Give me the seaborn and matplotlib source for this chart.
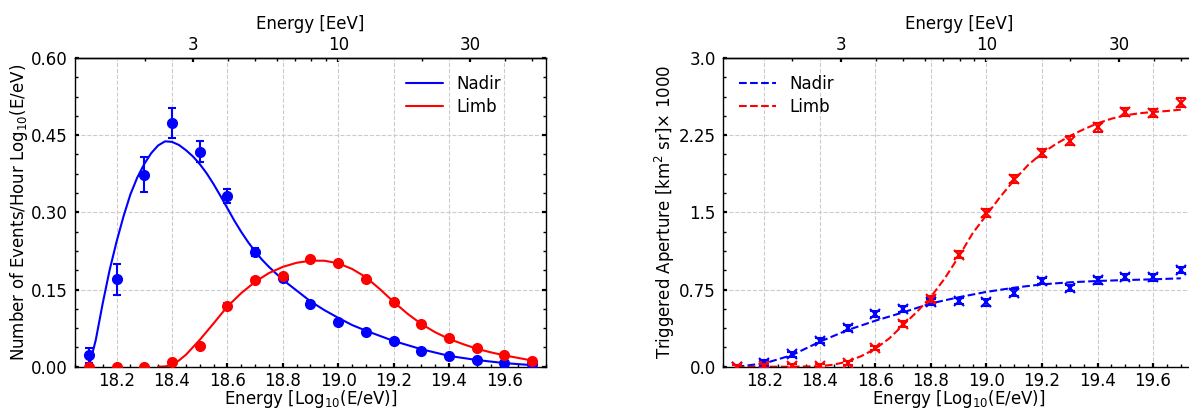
import numpy as np
import matplotlib
matplotlib.use("Agg")
import matplotlib.pyplot as plt
import seaborn as sns
from matplotlib.ticker import MultipleLocator, FixedLocator, NullFormatter

# ---------------- data ----------------
energy = [18.1, 18.2, 18.3, 18.4, 18.5, 18.6, 18.7, 18.8, 18.9, 19.0,
          19.1, 19.2, 19.3, 19.4, 19.5, 19.6, 19.7]

# Left panel: event rates (points)
nadir_rate = [0.022, 0.170, 0.373, 0.474, 0.418, 0.332, 0.223, 0.172, 0.122, 0.086,
              0.068, 0.050, 0.030, 0.020, 0.013, 0.008, 0.005]
nadir_rate_err = [0.014, 0.030, 0.034, 0.029, 0.021, 0.014, 0.007, 0.006, 0.005, 0.004,
                  0.004, 0.003, 0.003, 0.002, 0.002, 0.002, 0.001]
limb_rate = [0.0, 0.0, 0.0, 0.009, 0.041, 0.118, 0.168, 0.176, 0.209, 0.201,
             0.171, 0.125, 0.083, 0.055, 0.036, 0.023, 0.012]
limb_rate_err = [0.002, 0.002, 0.002, 0.003, 0.004, 0.005, 0.005, 0.005, 0.005, 0.005,
                 0.005, 0.004, 0.004, 0.003, 0.003, 0.002, 0.002]

# Left panel: fitted curves
nadir_fit_x = [18.1, 18.11, 18.125, 18.15, 18.175, 18.2, 18.225, 18.25, 18.275, 18.3,
               18.325, 18.35, 18.375, 18.4, 18.425, 18.45, 18.475, 18.5, 18.525, 18.55,
               18.575, 18.6, 18.625, 18.65, 18.675, 18.7, 18.725, 18.75, 18.8, 18.85,
               18.9, 18.95, 19.0, 19.05, 19.1, 19.2, 19.3, 19.4, 19.5, 19.6, 19.7]
nadir_fit_y = [0.0, 0.020, 0.052, 0.123, 0.188, 0.243, 0.292, 0.335, 0.368, 0.394,
               0.415, 0.430, 0.438, 0.437, 0.431, 0.421, 0.409, 0.394, 0.376, 0.355,
               0.332, 0.308, 0.284, 0.262, 0.242, 0.224, 0.208, 0.194, 0.169, 0.148,
               0.127, 0.110, 0.095, 0.081, 0.070, 0.050, 0.034, 0.021, 0.013, 0.007, 0.003]
limb_fit_x = [18.35, 18.375, 18.4, 18.425, 18.45, 18.5, 18.55, 18.6, 18.65, 18.7,
              18.75, 18.8, 18.85, 18.9, 18.95, 19.0, 19.05, 19.1, 19.15, 19.2,
              19.25, 19.3, 19.35, 19.4, 19.45, 19.5, 19.55, 19.6, 19.65, 19.7]
limb_fit_y = [0.0, 0.0005, 0.004, 0.012, 0.023, 0.052, 0.084, 0.117, 0.143, 0.165,
              0.182, 0.194, 0.202, 0.206, 0.206, 0.201, 0.190, 0.174, 0.151, 0.126,
              0.103, 0.083, 0.067, 0.054, 0.044, 0.035, 0.028, 0.022, 0.017, 0.012]

# Right panel: triggered aperture (points)
nadir_ap = [0.0, 0.038, 0.120, 0.253, 0.373, 0.509, 0.560, 0.630, 0.638, 0.624,
            0.721, 0.835, 0.768, 0.838, 0.872, 0.867, 0.940]
nadir_ap_err = [0.02, 0.025, 0.025, 0.025, 0.03, 0.03, 0.03, 0.03, 0.03, 0.03,
                0.03, 0.03, 0.03, 0.03, 0.03, 0.03, 0.03]
limb_ap = [0.0, 0.010, 0.005, 0.008, 0.035, 0.178, 0.415, 0.655, 1.090, 1.490,
           1.824, 2.074, 2.196, 2.326, 2.472, 2.468, 2.566]
limb_ap_err = [0.02, 0.02, 0.02, 0.02, 0.02, 0.02, 0.025, 0.03, 0.035, 0.04,
               0.04, 0.04, 0.045, 0.045, 0.04, 0.04, 0.045]

# Right panel: fitted curves
nadir_apfit_x = [18.1, 18.2, 18.3, 18.4, 18.5, 18.6, 18.7, 18.8, 18.9, 19.0,
                 19.1, 19.2, 19.3, 19.4, 19.5, 19.6, 19.7]
nadir_apfit_y = [0.0, 0.032, 0.113, 0.243, 0.356, 0.447, 0.528, 0.615, 0.675, 0.727,
                 0.768, 0.800, 0.820, 0.833, 0.842, 0.849, 0.859]
limb_apfit_x = [18.1, 18.2, 18.3, 18.4, 18.45, 18.5, 18.55, 18.6, 18.65, 18.7,
                18.75, 18.8, 18.85, 18.9, 18.95, 19.0, 19.05, 19.1, 19.15, 19.2,
                19.25, 19.3, 19.35, 19.4, 19.45, 19.5, 19.55, 19.6, 19.65, 19.7]
limb_apfit_y = [0.0, 0.0, 0.0, 0.005, 0.020, 0.050, 0.104, 0.175, 0.275, 0.405,
                0.534, 0.680, 0.859, 1.069, 1.296, 1.474, 1.652, 1.814, 1.960, 2.074,
                2.164, 2.242, 2.307, 2.365, 2.410, 2.443, 2.463, 2.475, 2.485, 2.498]

left_yticks = [0.0, 0.15, 0.30, 0.45, 0.60]
left_yticklabels = ["0.00", "0.15", "0.30", "0.45", "0.60"]
right_yticks = [0.0, 0.75, 1.5, 2.25, 3.0]
right_yticklabels = ["0.0", "0.75", "1.5", "2.25", "3.0"]
top_ticks = [3, 10, 30]
top_ticklabels = ["3", "10", "30"]
top_minor = [2, 4, 5, 6, 7, 8, 9, 20, 40, 50]
series_names = ["Nadir", "Limb"]

# ---------------- style ----------------
sns.set_theme(style="white")
plt.rcParams["font.family"] = ["DejaVu Sans"]
plt.rcParams["font.size"] = 12
plt.rcParams["axes.linewidth"] = 1.0
plt.rcParams["mathtext.default"] = "regular"
for k in ["text.color", "axes.labelcolor", "xtick.color", "ytick.color",
          "axes.edgecolor"]:
    plt.rcParams[k] = "black"

W, H = 1189, 409
fig = plt.figure(figsize=(W / 100, H / 100), dpi=100)
fig.patch.set_facecolor("white")
bottom = 1 - 366.7 / H
height = (366.7 - 58) / H
ax1 = fig.add_axes([75 / W, bottom, 471 / W, height])
ax2 = fig.add_axes([722.7 / W, bottom, 472 / W, height])

BLUE = "#0000ff"
RED = "#ff0000"


def to_eev(x):
    return 10 ** (np.asarray(x, dtype=float) - 18)


def from_eev(e):
    e = np.asarray(e, dtype=float)
    with np.errstate(divide="ignore", invalid="ignore"):
        return np.log10(np.clip(e, 1e-12, None)) + 18


def style_axes(ax, yticks, yticklabels, ylim, yminor):
    ax.set_xlim(18.05, 19.75)
    ax.set_ylim(*ylim)
    ax.xaxis.set_major_locator(MultipleLocator(0.2))
    ax.xaxis.set_minor_locator(MultipleLocator(0.05))
    ax.set_yticks(yticks)
    ax.set_yticklabels(yticklabels)
    ax.yaxis.set_minor_locator(MultipleLocator(yminor))
    ax.tick_params(axis="both", which="major", direction="in", length=3, width=1.6,
                   labelsize=12, color="black", labelcolor="black")
    ax.tick_params(axis="y", which="major", pad=5)
    ax.tick_params(axis="x", which="major", pad=3.5)
    ax.tick_params(axis="both", which="minor", direction="in", length=2, width=1.0,
                   color="black")
    ax.tick_params(axis="y", which="both", left=True, right=True)
    ax.tick_params(axis="x", which="both", bottom=True, top=False)
    ax.grid(True, which="major", linestyle="--", color="#cccccc", linewidth=0.8)
    ax.set_axisbelow(True)
    for s in ax.spines.values():
        s.set_color("black")
        s.set_linewidth(1.0)
    ax.set_xlabel(r"Energy [Log$_{10}$(E/eV)]", fontsize=12, labelpad=-1,
                  color="black")
    sec = ax.secondary_xaxis("top", functions=(to_eev, from_eev))
    sec.xaxis.set_major_locator(FixedLocator(top_ticks))
    sec.set_xticklabels(top_ticklabels)
    sec.xaxis.set_minor_locator(FixedLocator(top_minor))
    sec.xaxis.set_minor_formatter(NullFormatter())
    sec.tick_params(axis="x", which="major", direction="in", length=3, width=1.6,
                    labelsize=12, pad=3, color="black", labelcolor="black")
    sec.tick_params(axis="x", which="minor", direction="in", length=2, width=1.0,
                    color="black")
    sec.set_xlabel("Energy [EeV]", fontsize=12, labelpad=5, color="black")
    sec.spines["top"].set_linewidth(1.0)
    sec.spines["top"].set_color("black")


# ---------------- left panel ----------------
sns.lineplot(x=nadir_fit_x, y=nadir_fit_y, ax=ax1, color=BLUE, lw=1.5,
             label=series_names[0], sort=True)
sns.lineplot(x=limb_fit_x, y=limb_fit_y, ax=ax1, color=RED, lw=1.5,
             label=series_names[1], sort=True)
ax1.errorbar(energy, nadir_rate, yerr=nadir_rate_err, fmt="o", color=BLUE, ms=7,
             elinewidth=1.5, capsize=3, capthick=1.5, zorder=3)
ax1.errorbar(energy, limb_rate, yerr=limb_rate_err, fmt="o", color=RED, ms=7,
             elinewidth=1.5, capsize=3, capthick=1.5, zorder=4)
style_axes(ax1, left_yticks, left_yticklabels, (0, 0.6), 0.0375)
ax1.set_ylabel(r"Number of Events/Hour Log$_{10}$(E/eV)", fontsize=12, labelpad=1,
               color="black")
ax1.legend(loc="upper right", bbox_to_anchor=(0.94, 1.0), frameon=False, fontsize=12,
           handlelength=2.2, borderaxespad=0.6, labelspacing=0.3)

# ---------------- right panel ----------------
sns.lineplot(x=nadir_apfit_x, y=nadir_apfit_y, ax=ax2, color=BLUE, lw=1.5,
             linestyle="--", label=series_names[0], sort=True)
sns.lineplot(x=limb_apfit_x, y=limb_apfit_y, ax=ax2, color=RED, lw=1.5,
             linestyle="--", label=series_names[1], sort=True)
ax2.errorbar(energy, nadir_ap, yerr=nadir_ap_err, fmt="x", color=BLUE, ms=7, mew=1.5,
             elinewidth=1.2, capsize=3.5, capthick=1.2, zorder=3)
ax2.errorbar(energy, limb_ap, yerr=limb_ap_err, fmt="x", color=RED, ms=7, mew=1.5,
             elinewidth=1.2, capsize=3.5, capthick=1.2, zorder=4)
style_axes(ax2, right_yticks, right_yticklabels, (0, 3.0), 0.1875)
ax2.set_ylabel(r"Triggered Aperture [km$^2$ sr]$\times$ 1000", fontsize=12, labelpad=1,
               color="black")
ax2.legend(loc="upper left", frameon=False, fontsize=12, handlelength=2.2,
           borderaxespad=0.6, labelspacing=0.3)

fig.savefig("out.png", dpi=100, facecolor="white")
